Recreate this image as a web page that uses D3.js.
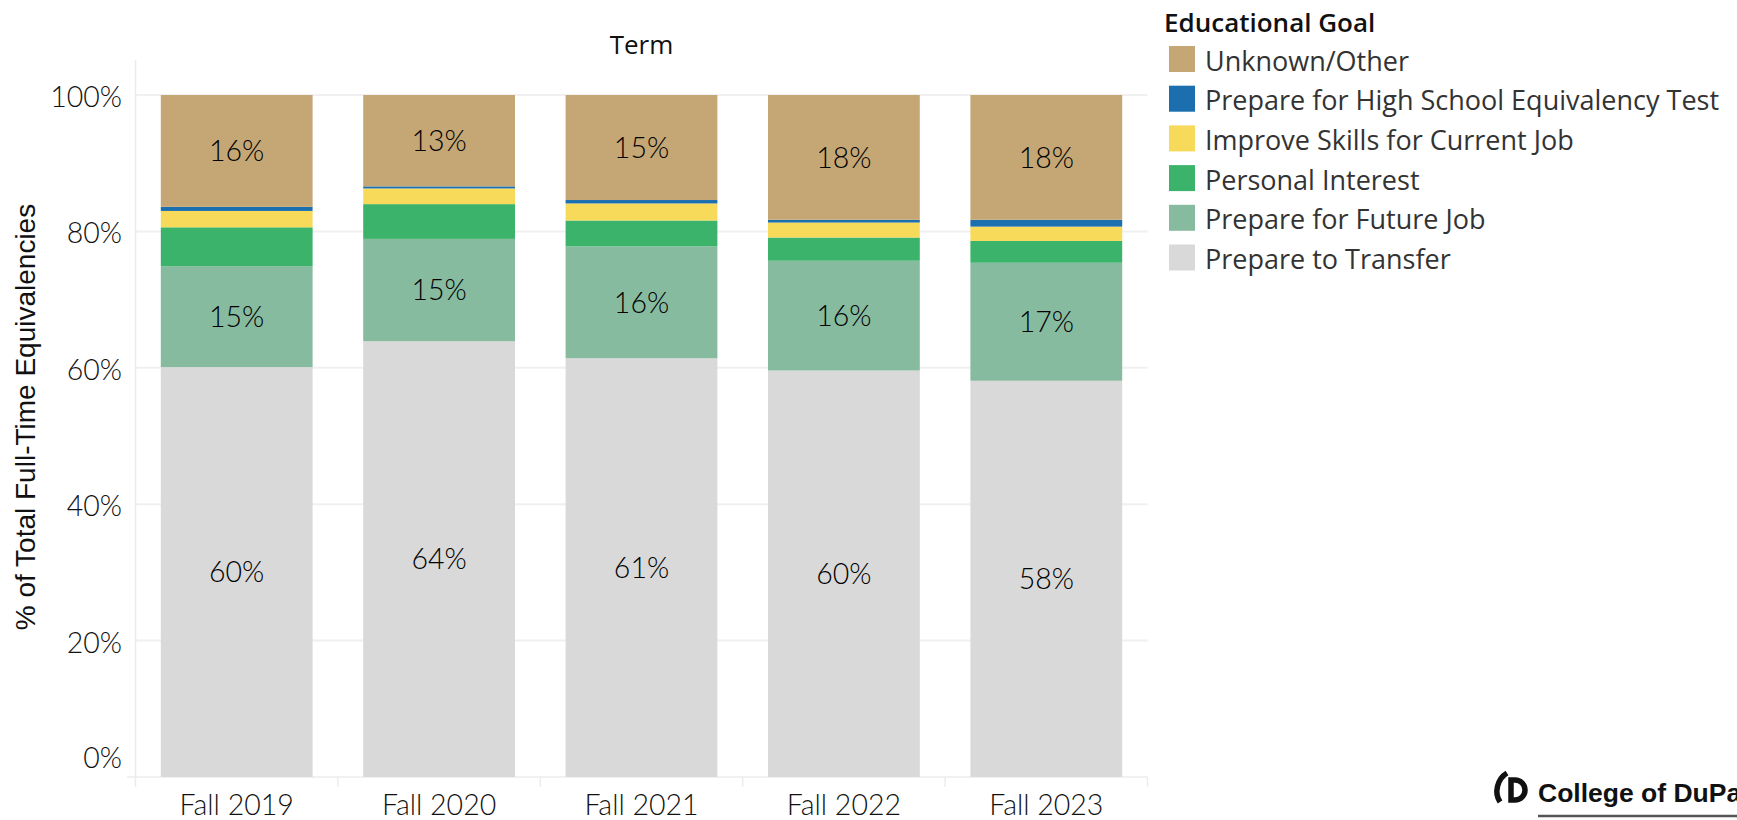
<!DOCTYPE html>
<meta charset="utf-8">
<script src="https://cdn.jsdelivr.net/npm/d3@7"></script>
<style>
  body { margin: 0; background: #fff; }
  text { font-family: Lato, sans-serif; }
</style>
<body>
<script>
// data (percent of total FTE)
var terms = ["Fall 2019", "Fall 2020", "Fall 2021", "Fall 2022", "Fall 2023"];
var goals = ["Prepare to Transfer", "Prepare for Future Job", "Personal Interest",
             "Improve Skills for Current Job", "Prepare for High School Equivalency Test", "Unknown/Other"];
var transfer  = [60.1, 63.9, 61.4, 59.6, 58.1];
var futureJob = [14.8, 15.0, 16.4, 16.1, 17.3];
var personal  = [5.7, 5.1, 3.8, 3.4, 3.2];
var improve   = [2.4, 2.3, 2.5, 2.2, 2.1];
var hse       = [0.6, 0.3, 0.5, 0.4, 1.0];
var unknown   = [16.4, 13.4, 15.4, 18.3, 18.3];
var yTicks = [0, 20, 40, 60, 80, 100];
var labelled = ["Prepare to Transfer", "Prepare for Future Job", "Unknown/Other"];

var colors = ["#d9d9d9", "#87bba0", "#3cb36b", "#f8da5b", "#1b6fae", "#c5a775"];

var W = 1737, H = 820;
var plotL = 135.5, plotR = 1147.5, plotT = 95, plotB = 777;

var table = terms.map(function(t, i) {
  var row = {term: t};
  row[goals[0]] = transfer[i];
  row[goals[1]] = futureJob[i];
  row[goals[2]] = personal[i];
  row[goals[3]] = improve[i];
  row[goals[4]] = hse[i];
  row[goals[5]] = unknown[i];
  return row;
});

var svg = d3.select("body").append("svg")
    .attr("width", W)
    .attr("height", H);

var x = d3.scaleBand().domain(terms).range([plotL, plotR])
    .paddingInner(0.25).paddingOuter(0.125);
var y = d3.scaleLinear().domain([0, 100]).range([plotB, plotT]);
var color = d3.scaleOrdinal().domain(goals).range(colors);

// gridlines
svg.append("g").selectAll("line")
  .data(yTicks.slice(1)).enter().append("line")
    .attr("x1", plotL).attr("x2", plotR)
    .attr("y1", function(d) { return y(d); })
    .attr("y2", function(d) { return y(d); })
    .attr("stroke", "#f0f0f0").attr("stroke-width", 2);

// axis frame
svg.append("line")
    .attr("x1", plotL).attr("x2", plotL).attr("y1", 60).attr("y2", 787)
    .attr("stroke", "#ececec").attr("stroke-width", 1.5);
svg.append("line")
    .attr("x1", 127).attr("x2", plotR).attr("y1", plotB).attr("y2", plotB)
    .attr("stroke", "#ececec").attr("stroke-width", 1.5);
svg.append("g").selectAll("line")
  .data(terms.slice(1)).enter().append("line")
    .attr("x1", function(d) { return x(d) - x.step() * x.paddingInner() / 2; })
    .attr("x2", function(d) { return x(d) - x.step() * x.paddingInner() / 2; })
    .attr("y1", plotB).attr("y2", 787)
    .attr("stroke", "#ececec").attr("stroke-width", 1.5);
svg.append("line")
    .attr("x1", plotR).attr("x2", plotR).attr("y1", plotB).attr("y2", 787)
    .attr("stroke", "#ececec").attr("stroke-width", 1.5);

// stacked bars
var series = d3.stack().keys(goals)(table);

var layer = svg.append("g").selectAll("g")
  .data(series).enter().append("g")
    .attr("fill", function(d) { return color(d.key); });

layer.selectAll("rect")
  .data(function(d) { return d; }).enter().append("rect")
    .attr("x", function(d) { return x(d.data.term); })
    .attr("y", function(d) { return y(d[1]); })
    .attr("width", x.bandwidth())
    .attr("height", function(d) { return y(d[0]) - y(d[1]); });

// segment labels
var fmt = d3.format(".0f");
series.filter(function(s) { return labelled.indexOf(s.key) >= 0; }).forEach(function(s) {
  svg.append("g").selectAll("text")
    .data(s).enter().append("text")
      .attr("x", function(d) { return x(d.data.term) + x.bandwidth() / 2; })
      .attr("y", function(d) { return (y(d[0]) + y(d[1])) / 2; })
      .attr("dy", "0.36em")
      .attr("text-anchor", "middle")
      .style("font-size", "28.5px")
      .style("font-weight", "300")
      .style("fill", "#000")
      .text(function(d) { return fmt(d[1] - d[0]) + "%"; });
});

// y tick labels
svg.append("g").selectAll("text")
  .data(yTicks).enter().append("text")
    .attr("x", 122)
    .attr("y", function(d) { return d === 0 ? 768 : y(d) + 12; })
    .attr("text-anchor", "end")
    .style("font-size", "28.5px")
    .style("font-weight", "300")
    .style("fill", "#111")
    .text(function(d) { return d + "%"; });

// x tick labels
svg.append("g").selectAll("text")
  .data(terms).enter().append("text")
    .attr("x", function(d) { return x(d) + x.bandwidth() / 2; })
    .attr("y", 815)
    .attr("text-anchor", "middle")
    .style("font-size", "28.5px")
    .style("font-weight", "300")
    .style("fill", "#111")
    .text(function(d) { return d; });

// titles
svg.append("text")
    .attr("x", (plotL + plotR) / 2)
    .attr("y", 54)
    .attr("text-anchor", "middle")
    .style("font-family", "'Open Sans', sans-serif")
    .style("font-weight", "500")
    .style("font-size", "26px")
    .style("fill", "#111")
    .text("Term");

svg.append("text")
    .attr("transform", "translate(35," + 417 + ") rotate(-90)")
    .attr("text-anchor", "middle")
    .style("font-family", "'Liberation Sans', Arial, sans-serif")
    .style("font-size", "28px")
    .style("fill", "#111")
    .text("% of Total Full-Time Equivalencies");

// legend
svg.append("text")
    .attr("x", 1164)
    .attr("y", 32)
    .style("font-family", "'Open Sans', sans-serif")
    .style("font-size", "26px")
    .style("font-weight", "600")
    .style("fill", "#111")
    .text("Educational Goal");

var legendOrder = goals.slice().reverse();
var legend = svg.append("g").selectAll("g")
  .data(legendOrder).enter().append("g")
    .attr("transform", function(d, i) { return "translate(1169," + (46 + i * 39.7) + ")"; });

legend.append("rect")
    .attr("width", 26).attr("height", 26)
    .attr("fill", function(d) { return color(d); });

legend.append("text")
    .attr("x", 36)
    .attr("y", 24.5)
    .style("font-family", "'Open Sans', sans-serif")
    .style("font-size", "27px")
    .style("font-weight", "400")
    .style("fill", "#333")
    .text(function(d) { return d; });

// logo, bottom right
var logo = svg.append("g");
logo.append("path")
    .attr("d", "M1507,773 C1497,779 1494,793 1500,802")
    .attr("fill", "none").attr("stroke", "#111").attr("stroke-width", 5.5);
logo.append("path")
    .attr("d", "M1511,780 L1515,780 A10,10 0 0 1 1515,800 L1511,800 Z")
    .attr("fill", "none").attr("stroke", "#111").attr("stroke-width", 5.5);
logo.append("text")
    .attr("x", 1538)
    .attr("y", 802)
    .style("font-family", "'Liberation Sans', Arial, sans-serif")
    .style("font-weight", "bold")
    .style("font-size", "26.5px")
    .style("fill", "#111")
    .text("College of DuPage");
logo.append("line")
    .attr("x1", 1538).attr("x2", W).attr("y1", 816).attr("y2", 816)
    .attr("stroke", "#555").attr("stroke-width", 2.5);
</script>
</body>
